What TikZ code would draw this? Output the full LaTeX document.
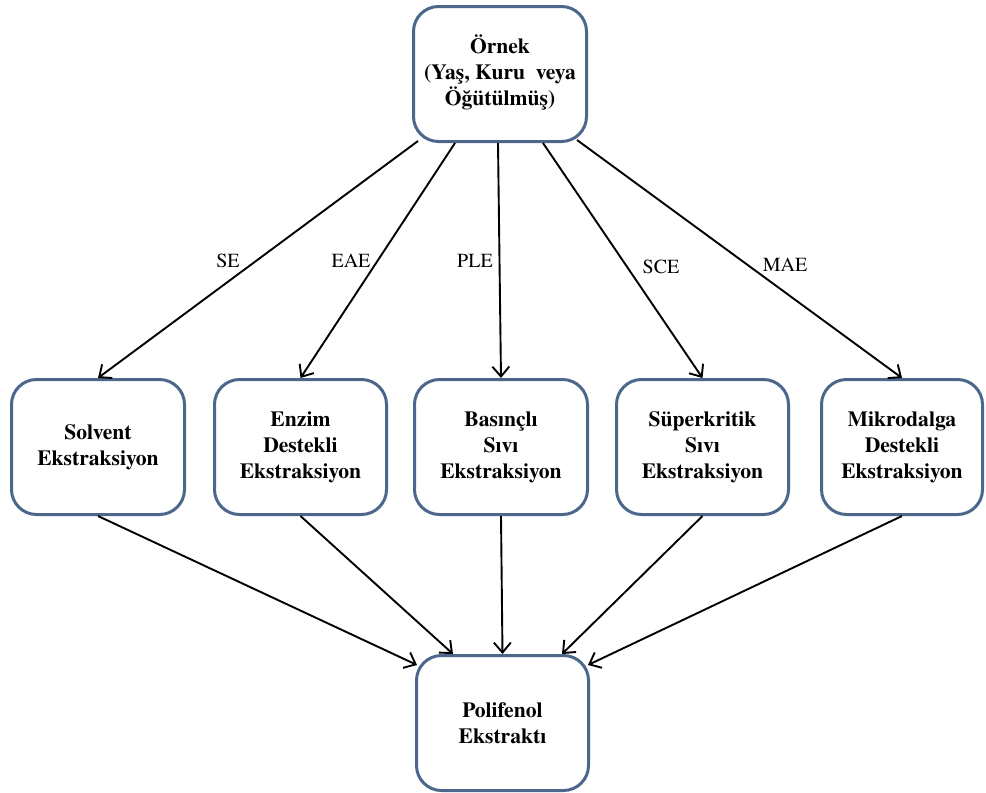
\documentclass[tikz,border=0pt]{standalone}
\usepackage{fontspec}
\setmainfont{TeX Gyre Termes}
\usetikzlibrary{arrows.meta}
\definecolor{boxblue}{RGB}{75,104,140}
\begin{document}
\begin{tikzpicture}[x=1pt,y=1pt,
 box/.style={draw=boxblue, line width=3pt, rounded corners=25pt, fill=white, inner sep=0pt, align=center,
   minimum height=135pt, font=\fontsize{21.6}{26}\selectfont\bfseries},
 arr/.style={draw=black, line width=1.9pt, -{Straight Barb[length=10pt,width=17pt]}},
 lab/.style={font=\fontsize{20}{24}\selectfont, inner sep=0pt}]
\useasboundingbox (0,0) rectangle (986,-793);
\node[box, minimum width=173pt] (top) at (500,-74) {\raisebox{-3pt}{\begin{tabular}{@{}c@{}}Örnek\\(Yaş, Kuru\ \ veya\\Öğütülmüş)\end{tabular}}};
\node[box, minimum width=173pt] (s1) at (98,-447) {Solvent\\Ekstraksiyon};
\node[box, minimum width=172pt] (s2) at (300.5,-447) {Enzim\\Destekli\\Ekstraksiyon};
\node[box, minimum width=173pt] (s3) at (501,-447) {Basınçlı\\Sıvı\\Ekstraksiyon};
\node[box, minimum width=172pt] (s4) at (702.5,-447) {Süperkritik\\Sıvı\\Ekstraksiyon};
\node[box, minimum width=161pt] (s5) at (902,-447) {Mikrodalga\\Destekli\\Ekstraksiyon};
\node[box, minimum width=172pt] (bot) at (502.5,-723) {Polifenol\\Ekstraktı};

\draw[arr] ([xshift=-82pt,yshift=2pt]top.south) -- (s1.north);
\draw[arr] ([xshift=-45pt]top.south) -- (s2.north);
\draw[arr] ([xshift=-2pt]top.south) -- (s3.north);
\draw[arr] ([xshift=43pt]top.south) -- (s4.north);
\draw[arr] ([xshift=77pt,yshift=3pt]top.south) -- (s5.north);

\draw[arr] (s1.south) -- ([xshift=-85.5pt,yshift=-11pt]bot.north);
\draw[arr] (s2.south) -- ([xshift=-49.5pt]bot.north);
\draw[arr] (s3.south) -- ([xshift=0pt]bot.north);
\draw[arr] (s4.south) -- ([xshift=59.5pt]bot.north);
\draw[arr] (s5.south) -- ([xshift=85.5pt,yshift=-11pt]bot.north);

\node[lab] (lse) at (228,-261) {SE};
\node[lab] (leae) at (351,-261) {EAE};
\node[lab] (lple) at (475,-261) {PLE};
\node[lab] (lsce) at (661,-267) {SCE};
\node[lab] (lmae) at (785,-265) {MAE};
\end{tikzpicture}
\end{document}
